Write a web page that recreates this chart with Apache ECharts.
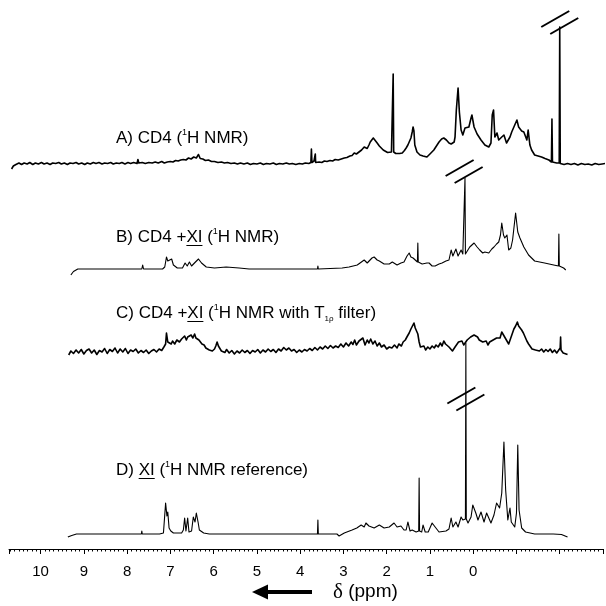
<!DOCTYPE html>
<html>
<head>
<meta charset="utf-8">
<script src="https://cdn.jsdelivr.net/npm/echarts@6/dist/echarts.min.js"></script>
<style>
  html, body { margin: 0; padding: 0; background: #fff; }
  #chart { width: 606px; height: 606px; }
</style>
</head>
<body>
<div id="chart"></div>
<script>
// chemical shift (ppm) vs intensity above each trace's own baseline
const specA = [
  [10.67,-1.0],[10.63,-0.4],[10.57,-0.1],[10.50,0.2],[10.44,-0.1],[10.38,0.2],[10.31,0.0],[10.25,0.3],[10.18,-0.1],[10.12,0.2],
  [10.05,0.0],[9.98,0.3],[9.92,0.0],[9.85,0.2],[9.78,-0.1],[9.72,0.2],[9.65,0.1],[9.58,0.3],[9.52,0.0],[9.45,0.2],
  [9.38,-0.1],[9.32,0.2],[9.25,0.1],[9.18,0.3],[9.12,0.0],[9.05,0.2],[8.98,-0.1],[8.92,0.2],[8.85,0.0],[8.78,0.3],
  [8.72,0.1],[8.65,0.3],[8.58,0.0],[8.52,0.2],[8.45,0.1],[8.38,0.3],[8.32,0.0],[8.25,0.2],[8.18,0.1],[8.12,0.3],
  [8.05,0.0],[7.98,0.3],[7.92,0.1],[7.85,0.3],[7.77,0.1],[7.75,0.9],[7.73,0.2],[7.65,0.3],[7.58,0.1],[7.50,0.3],
  [7.42,0.2],[7.35,0.4],[7.28,0.2],[7.20,0.5],[7.14,0.2],[7.07,0.4],[7.00,0.5],[6.94,0.4],[6.88,0.7],[6.82,0.6],
  [6.76,0.8],[6.70,0.9],[6.64,0.8],[6.58,1.2],[6.52,1.0],[6.46,1.4],[6.40,1.2],[6.35,1.9],[6.31,1.1],[6.25,1.0],
  [6.19,0.7],[6.12,0.8],[6.05,0.5],[5.98,0.5],[5.90,0.3],[5.82,0.4],[5.75,0.2],[5.68,0.3],[5.60,0.1],[5.52,0.2],
  [5.45,0.0],[5.38,0.2],[5.30,0.0],[5.22,0.2],[5.15,-0.1],[5.08,0.1],[5.00,0.0],[4.92,0.2],[4.85,-0.1],[4.78,0.1],
  [4.70,0.0],[4.62,0.2],[4.55,-0.1],[4.48,0.1],[4.40,0.0],[4.32,0.2],[4.25,0.0],[4.18,0.1],[4.10,-0.1],[4.02,0.1],
  [3.95,0.0],[3.88,0.2],[3.80,0.1],[3.752,0.3],[3.74,3.0],[3.728,0.3],[3.68,0.6],[3.658,0.6],[3.65,2.0],[3.642,0.3],[3.56,0.4],
  [3.50,0.3],[3.44,0.6],[3.38,0.5],[3.31,0.7],[3.25,0.6],[3.19,0.9],[3.12,0.8],[3.05,1.0],[2.98,1.2],[2.92,1.3],
  [2.85,1.6],[2.80,1.7],[2.75,2.2],[2.70,2.0],[2.64,2.4],[2.58,2.8],[2.52,3.4],[2.48,3.0],[2.45,3.1],[2.41,3.8],
  [2.38,4.4],[2.34,4.8],[2.31,5.2],[2.27,4.8],[2.22,4.2],[2.17,3.6],[2.13,3.2],[2.08,2.8],[2.04,2.4],[1.98,2.3],
  [1.94,2.2],[1.89,2.4],[1.862,2.4],[1.85,18.0],[1.838,2.4],[1.79,2.1],[1.76,2.0],[1.70,2.1],[1.64,2.2],[1.59,2.7],
  [1.55,3.2],[1.51,3.8],[1.48,4.2],[1.44,5.2],[1.41,6.4],[1.39,7.4],[1.37,6.6],[1.35,3.8],[1.30,2.4],[1.23,1.8],
  [1.16,1.6],[1.07,1.4],[1.00,2.0],[0.91,2.8],[0.85,3.6],[0.79,4.4],[0.73,5.0],[0.68,5.2],[0.62,4.8],[0.56,4.2],
  [0.51,4.0],[0.47,3.8],[0.44,4.4],[0.42,5.4],[0.39,10.8],[0.35,15.2],[0.32,10.4],[0.28,6.8],[0.24,5.8],[0.19,7.2],
  [0.15,6.8],[0.10,7.4],[0.05,9.2],[0.03,9.8],[-0.02,7.4],[-0.09,6.0],[-0.18,4.8],[-0.27,3.8],[-0.36,3.4],[-0.41,4.2],
  [-0.44,9.8],[-0.47,10.8],[-0.50,5.4],[-0.55,6.2],[-0.59,4.8],[-0.66,5.4],[-0.71,5.8],[-0.77,4.2],[-0.85,5.4],[-0.89,6.4],
  [-0.96,7.8],[-1.01,8.8],[-1.05,7.4],[-1.12,6.6],[-1.17,6.4],[-1.21,6.8],[-1.24,4.8],[-1.27,6.8],[-1.31,3.8],[-1.35,2.8],
  [-1.42,1.8],[-1.50,1.6],[-1.58,1.4],[-1.66,1.1],[-1.75,0.8],[-1.808,0.4],[-1.82,9.0],[-1.832,0.4],[-1.93,0.2],[-1.988,0.2],
  [-2.00,27.4],[-2.012,0.1],[-2.10,-0.1],[-2.18,0.1],[-2.26,-0.1],[-2.34,0.1],[-2.42,-0.2],[-2.50,0.1],[-2.58,-0.1],[-2.66,0.0],
  [-2.74,-0.2],[-2.82,0.1],[-2.90,-0.1],[-2.98,0.0],[-3.05,0.1]
];

const specB = [
  [9.30,-1.2],[9.24,-0.5],[9.14,0],[8.60,0],[8.10,0],[7.66,0],[7.64,0.8],[7.62,0],[7.18,0],[7.13,0.4],
  [7.09,2.4],[7.06,1.6],[7.02,1.2],[6.97,2.0],[6.93,0.8],[6.84,0.2],[6.72,0.2],[6.66,1.2],[6.61,0.6],[6.56,1.4],
  [6.51,0.6],[6.47,1.0],[6.42,1.4],[6.35,2.0],[6.28,1.2],[6.17,0.4],[5.98,0.2],[5.71,0.4],[5.41,0.2],[5.18,0],
  [4.40,0],[3.60,0],[3.59,0.6],[3.58,0],[3.03,0.2],[2.87,0.4],[2.68,0.8],[2.52,1.8],[2.45,1.2],[2.41,1.4],
  [2.34,2.2],[2.29,2.4],[2.22,1.8],[2.17,1.6],[2.06,1.0],[1.94,1.0],[1.87,1.4],[1.83,1.2],[1.76,0.8],[1.67,1.2],
  [1.60,1.4],[1.53,2.6],[1.48,3.2],[1.44,2.4],[1.39,2.2],[1.35,1.8],[1.29,1.4],[1.28,5.2],[1.27,1.4],[1.18,1.0],
  [1.14,0.8],[1.07,1.2],[1.02,1.2],[0.95,0.6],[0.88,0.6],[0.79,1.0],[0.72,1.2],[0.63,1.6],[0.56,1.8],[0.51,3.8],
  [0.47,2.6],[0.40,4.0],[0.35,2.6],[0.28,3.8],[0.24,3.0],[0.20,3.0],[0.19,18.2],[0.18,3.0],[0.15,3.4],[0.08,4.4],
  [0.03,4.8],[-0.02,5.2],[-0.09,4.4],[-0.15,3.8],[-0.22,3.2],[-0.27,3.4],[-0.36,3.2],[-0.43,4.0],[-0.48,4.4],[-0.54,5.0],
  [-0.59,5.4],[-0.63,6.8],[-0.66,9.2],[-0.70,6.8],[-0.73,6.2],[-0.78,6.8],[-0.82,3.8],[-0.87,4.2],[-0.91,5.8],[-0.98,11.2],
  [-1.03,7.4],[-1.08,6.2],[-1.17,4.4],[-1.28,2.8],[-1.42,1.6],[-1.65,1.2],[-1.86,0.8],[-1.97,0.6],[-1.98,7.0],[-1.99,0.6],
  [-2.09,0.2],[-2.14,-0.2]
];

const specC = [
  [9.35,-0.6],[9.30,0.2],[9.24,-0.3],[9.18,0.4],[9.12,-0.2],[9.06,0.5],[9.00,-0.4],[8.94,0.3],[8.88,0.6],[8.82,-0.2],
  [8.76,0.4],[8.70,-0.5],[8.64,0.3],[8.58,0.0],[8.52,0.7],[8.46,-0.3],[8.40,0.5],[8.34,0.1],[8.28,0.8],[8.22,-0.2],
  [8.16,0.6],[8.10,0.0],[8.04,0.7],[7.98,-0.3],[7.92,0.4],[7.86,0.1],[7.80,0.6],[7.74,-0.2],[7.68,0.3],[7.62,-0.1],
  [7.56,0.4],[7.50,-0.3],[7.44,0.2],[7.38,0.5],[7.32,0.0],[7.26,0.6],[7.20,0.3],[7.15,1.0],[7.11,1.6],[7.09,3.8],
  [7.06,2.0],[7.02,2.4],[6.98,1.6],[6.95,2.2],[6.90,1.6],[6.85,2.4],[6.79,2.0],[6.74,2.6],[6.70,2.2],[6.67,3.2],
  [6.63,2.4],[6.60,3.0],[6.56,2.6],[6.52,3.4],[6.48,2.8],[6.44,3.6],[6.41,2.8],[6.38,3.2],[6.34,2.4],[6.30,2.2],
  [6.27,1.6],[6.22,1.4],[6.18,0.8],[6.14,1.2],[6.10,0.4],[6.06,0.8],[6.03,0.2],[5.98,0.6],[5.95,1.2],[5.92,2.0],
  [5.89,1.2],[5.86,1.0],[5.82,0.2],[5.78,0.6],[5.74,-0.1],[5.70,0.5],[5.64,-0.2],[5.58,0.3],[5.52,-0.4],[5.46,0.2],
  [5.40,-0.2],[5.34,0.4],[5.28,-0.1],[5.22,0.3],[5.16,-0.3],[5.10,0.3],[5.04,0.0],[4.98,0.5],[4.92,-0.2],[4.86,0.4],
  [4.80,0.0],[4.74,0.6],[4.68,0.1],[4.62,0.5],[4.56,-0.1],[4.50,0.6],[4.44,0.2],[4.38,0.9],[4.32,0.4],[4.26,0.8],
  [4.20,0.2],[4.14,0.5],[4.08,-0.1],[4.02,0.4],[3.96,0.0],[3.90,0.5],[3.84,0.2],[3.78,0.7],[3.72,0.3],[3.66,0.9],
  [3.60,0.4],[3.54,1.0],[3.48,0.6],[3.42,1.2],[3.36,0.7],[3.30,1.3],[3.24,0.8],[3.18,1.2],[3.12,0.9],[3.06,1.6],
  [3.00,1.0],[2.94,1.8],[2.88,1.2],[2.82,2.0],[2.78,1.5],[2.74,2.4],[2.70,1.4],[2.64,2.2],[2.60,1.8],[2.55,2.8],
  [2.50,1.4],[2.45,2.4],[2.41,1.8],[2.37,2.6],[2.32,1.6],[2.27,2.2],[2.22,1.2],[2.17,1.8],[2.12,1.0],[2.06,1.4],
  [2.00,0.6],[1.94,1.0],[1.88,0.8],[1.82,1.4],[1.76,0.8],[1.72,1.6],[1.66,1.2],[1.62,2.0],[1.57,2.4],[1.52,3.2],
  [1.48,3.8],[1.44,4.6],[1.40,5.0],[1.37,5.8],[1.34,4.8],[1.31,5.2],[1.28,3.6],[1.25,2.0],[1.22,1.0],[1.18,0.6],
  [1.14,1.2],[1.10,0.4],[1.05,1.0],[1.00,0.6],[0.95,1.2],[0.90,0.8],[0.86,1.4],[0.81,1.0],[0.76,1.8],[0.72,1.2],
  [0.68,2.2],[0.64,1.6],[0.60,1.8],[0.56,1.0],[0.52,0.6],[0.48,0.2],[0.45,-0.2],[0.42,1.0],[0.38,1.4],[0.34,2.0],
  [0.30,1.6],[0.26,2.2],[0.22,1.4],[0.18,1.8],[0.14,2.4],[0.10,2.0],[0.06,3.0],[0.02,2.6],[-0.02,3.4],[-0.06,3.8],
  [-0.10,3.0],[-0.14,2.4],[-0.18,2.8],[-0.22,2.0],[-0.26,1.6],[-0.30,2.2],[-0.34,1.4],[-0.38,2.0],[-0.42,1.6],[-0.46,2.4],
  [-0.50,2.0],[-0.54,2.8],[-0.58,3.2],[-0.62,2.8],[-0.66,4.0],[-0.70,3.4],[-0.74,2.8],[-0.78,2.2],[-0.82,1.6],[-0.86,2.6],
  [-0.90,3.6],[-0.94,4.6],[-0.98,5.2],[-1.02,6.0],[-1.05,5.2],[-1.08,5.6],[-1.12,4.4],[-1.16,3.8],[-1.20,3.0],[-1.24,2.2],
  [-1.28,1.6],[-1.32,1.2],[-1.36,0.6],[-1.40,1.0],[-1.44,0.4],[-1.48,0.8],[-1.53,0.2],[-1.58,0.6],[-1.63,0.0],[-1.68,0.5],
  [-1.73,0.1],[-1.78,0.6],[-1.83,-0.1],[-1.88,0.4],[-1.93,-0.2],[-1.97,0.3],[-2.01,0.8],[-2.02,3.0],[-2.03,0.4],[-2.08,-0.2],
  [-2.12,0.2],[-2.18,-0.5]
];

const specD = [
  [9.37,-0.6],[9.28,-0.3],[9.17,0],[8.64,0],[7.67,0],[7.66,0.6],[7.65,0],[7.25,0],[7.16,0.2],[7.13,0.4],
  [7.11,6.2],[7.08,3.6],[7.06,4.4],[7.03,1.2],[6.99,0.6],[6.93,0.2],[6.74,0.2],[6.70,0.8],[6.67,3.2],[6.64,0.6],
  [6.60,3.2],[6.57,0.4],[6.51,0.6],[6.47,3.4],[6.43,2.4],[6.40,4.2],[6.36,2.4],[6.33,0.8],[6.23,0.2],[6.10,0],
  [4.02,0],[3.60,0],[3.59,2.8],[3.58,0],[3.15,0],[3.10,-0.4],[2.98,0.2],[2.80,0.8],[2.69,1.2],[2.59,1.8],
  [2.52,1.4],[2.48,2.2],[2.41,1.6],[2.29,1.2],[2.17,1.8],[2.06,1.2],[1.94,1.4],[1.83,2.2],[1.76,1.4],[1.67,1.6],
  [1.60,0.8],[1.55,0.8],[1.51,2.4],[1.46,0.6],[1.41,0.8],[1.37,1.2],[1.32,0.4],[1.26,0.6],[1.25,11.2],[1.24,0.6],
  [1.19,0.4],[1.16,1.8],[1.11,0.4],[1.04,0.4],[0.95,2.2],[0.88,1.4],[0.79,0.4],[0.63,0.6],[0.56,1.0],[0.51,3.2],
  [0.47,1.4],[0.40,2.4],[0.35,1.4],[0.28,3.4],[0.24,2.8],[0.18,3.0],[0.17,38.2],[0.16,3.0],[0.12,2.2],[0.05,3.4],
  [0.01,5.8],[-0.06,4.2],[-0.11,2.8],[-0.18,4.4],[-0.25,2.4],[-0.31,4.2],[-0.41,2.2],[-0.48,3.8],[-0.54,6.2],[-0.61,5.2],
  [-0.66,8.2],[-0.71,18.4],[-0.75,8.8],[-0.80,2.8],[-0.85,5.2],[-0.88,2.4],[-0.96,1.4],[-1.00,4.2],[-1.03,17.8],[-1.06,4.8],
  [-1.12,1.2],[-1.21,0.4],[-1.42,0],[-1.85,0],[-1.86,0.4],[-1.87,0],[-2.04,-0.1],[-2.18,-0.6]
];

// vertical stacking of the four traces
const offsets = { A: 77, B: 56, C: 39.4, D: 3 };
const widths = { A: 1.6, B: 1.1, C: 1.6, D: 1.1 };
const traces = { A: specA, B: specB, C: specC, D: specD };

// axis break marks on truncated peaks (ppm, height above baseline)
const breakMarks = [
  { trace: 'A', ppm: -2.00, level: 28.3 },
  { trace: 'B', ppm: 0.21, level: 19.5 },
  { trace: 'D', ppm: 0.17, level: 27 }
];

const tickLabels = [0, 1, 2, 3, 4, 5, 6, 7, 8, 9, 10];

const FONT = '"Liberation Sans", Arial, sans-serif';

const series = Object.keys(traces).map(k => ({
  name: k,
  type: 'line',
  showSymbol: false,
  silent: true,
  animation: false,
  lineStyle: { color: '#000', width: widths[k], join: 'round' },
  data: traces[k].map(p => [p[0], p[1] + offsets[k]])
}));

const chart = echarts.init(document.getElementById('chart'));

const richStyles = {
  sup: { fontSize: 9, lineHeight: 12, verticalAlign: 'top', fontFamily: FONT, fill: '#000' },
  sub: { fontSize: 8, lineHeight: 8, verticalAlign: 'bottom', fontFamily: FONT, fill: '#000' }
};

const labels = [
  { y: 138, text: 'A) CD4 ({sup|1}H NMR)', pre: null },
  { y: 237, text: 'B) CD4 +XI ({sup|1}H NMR)', pre: 'B) CD4 +' },
  { y: 313, text: 'C) CD4 +XI ({sup|1}H NMR with T{sub|1\u03c1} filter)', pre: 'C) CD4 +' },
  { y: 470, text: 'D) XI ({sup|1}H NMR reference)', pre: 'D) ' }
];

chart.setOption({
  backgroundColor: '#fff',
  animation: false,
  grid: { left: 9, right: 1.7, top: 0, bottom: 57 },
  xAxis: {
    type: 'value',
    min: -3,
    max: 10.73,
    inverse: true,
    interval: 1,
    axisLine: { lineStyle: { color: '#000', width: 1 } },
    axisTick: { length: 5, lineStyle: { color: '#000' } },
    minorTick: { show: true, splitNumber: 10, length: 2.5, lineStyle: { color: '#000' } },
    splitLine: { show: false },
    axisLabel: {
      margin: 15,
      color: '#000',
      fontSize: 15,
      fontFamily: FONT,
      showMaxLabel: false,
      formatter: v => (tickLabels.indexOf(v) >= 0 ? String(v) : '')
    }
  },
  yAxis: { type: 'value', min: 0, max: 109.8, show: false },
  series: series
});

// graphic overlays: labels, underlines, break marks, arrow
const ctx = document.createElement('canvas').getContext('2d');
ctx.font = '17px ' + FONT;
const graphics = [];
labels.forEach(l => {
  graphics.push({
    type: 'text', x: 116, y: l.y,
    style: {
      text: l.text, rich: richStyles, fontSize: 17, fontFamily: FONT, fill: '#000',
      lineHeight: 20, align: 'left', verticalAlign: 'middle'
    }
  });
  if (l.pre) {
    const x0 = 116 + ctx.measureText(l.pre).width;
    const x1 = x0 + ctx.measureText('XI').width;
    graphics.push({
      type: 'line',
      shape: { x1: x0, y1: l.y + 8.5, x2: x1, y2: l.y + 8.5 },
      style: { stroke: '#000', lineWidth: 1 }
    });
  }
});

breakMarks.forEach(b => {
  const p = chart.convertToPixel({ gridIndex: 0 }, [b.ppm, b.level + offsets[b.trace]]);
  [-1, 1].forEach(s => {
    const cx = p[0] + s * 4.5, cy = p[1] + s * 3.5;
    graphics.push({
      type: 'line',
      shape: { x1: cx - 14, y1: cy + 8, x2: cx + 14, y2: cy - 8 },
      style: { stroke: '#000', lineWidth: 2 }
    });
  });
});

graphics.push({
  type: 'line',
  shape: { x1: 265, y1: 592, x2: 312, y2: 592 },
  style: { stroke: '#000', lineWidth: 4 }
});
graphics.push({
  type: 'polygon',
  shape: { points: [[252, 592], [268, 584.5], [268, 599.5]] },
  style: { fill: '#000' }
});
graphics.push({
  type: 'text', x: 333, y: 592,
  style: {
    text: '{d|\u03b4} (ppm)',
    rich: { d: { fontFamily: '"Liberation Serif", "DejaVu Serif", serif', fontSize: 21, fill: '#000' } },
    fontSize: 19, fontFamily: FONT, fill: '#000', align: 'left', verticalAlign: 'middle'
  }
});

chart.setOption({ graphic: graphics });
</script>
</body>
</html>
